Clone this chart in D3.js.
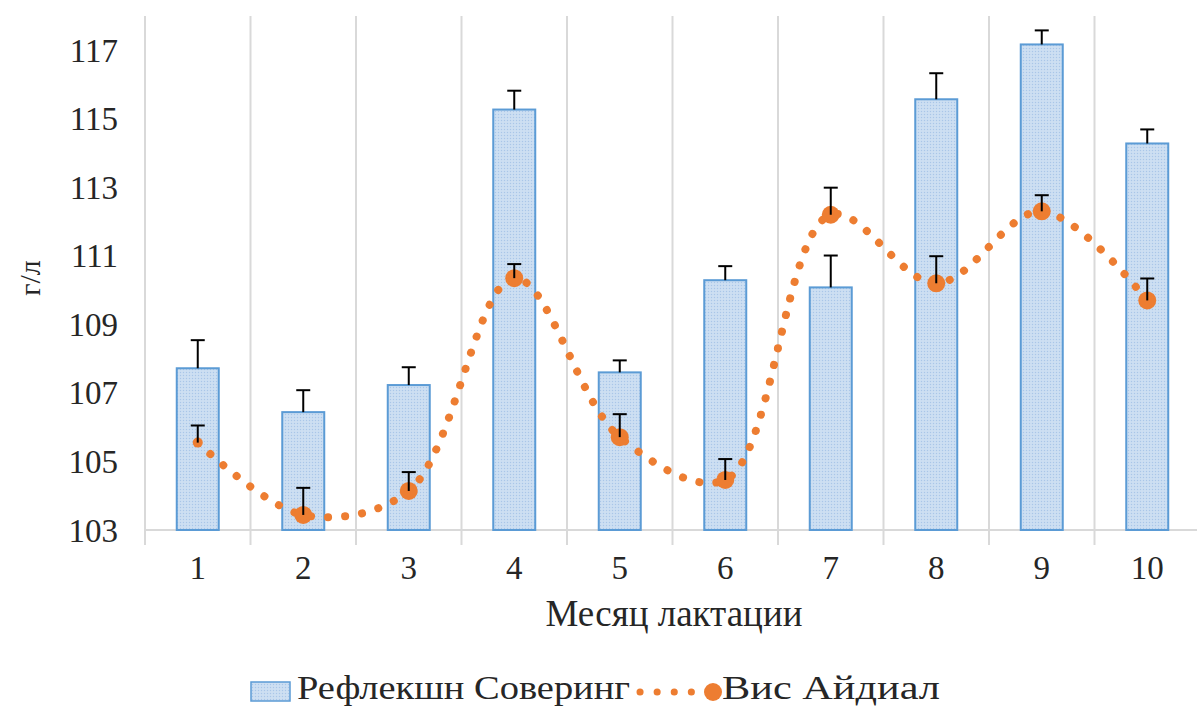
<!DOCTYPE html>
<html><head><meta charset="utf-8">
<script src="https://cdn.jsdelivr.net/npm/d3@7"></script>
<style>body{margin:0;background:#fff}svg{display:block}</style>
</head><body><svg id="c" width="1197" height="707"></svg>
<script>
const categories = ["1","2","3","4","5","6","7","8","9","10"];
const barValues = [107.72,106.44,107.23,115.27,107.6,110.29,110.08,115.57,117.17,114.28];
const barErrors = [0.82,0.64,0.52,0.55,0.35,0.41,0.93,0.76,0.41,0.41];
const lineValues = [105.55,103.44,104.14,110.35,105.71,104.46,112.2,110.2,112.3,109.7];
const lineErrors = [0.5,0.79,0.55,0.41,0.67,0.61,0.79,0.79,0.47,0.64];
const yTicks = [103,105,107,109,111,113,115,117];
const barName = "Рефлекшн Соверинг", lineName = "Вис Айдиал";
const xTitle = "Месяц лактации", yTitle = "г/л";

const svg = d3.select("#c");
const L = 145, R = 1200, T = 16, B = 530;
const TXT = "#262626";
const x = d3.scaleBand().domain(categories).range([L, R]);
const y = d3.scaleLinear().domain([103, 118]).range([B, T]);

function txt(sel, size){ return sel.style("font-family", '"Liberation Serif"').style("font-size", size+"px").style("fill", TXT); }

const defs = svg.append("defs");
const pat = defs.append("pattern").attr("id","p").attr("width",3).attr("height",3).attr("patternUnits","userSpaceOnUse");
pat.append("rect").attr("width",3).attr("height",3).attr("fill","#c9dcf1");
pat.append("rect").attr("width",1).attr("height",1).attr("fill","#a9c6e8");
pat.append("rect").attr("x",1.5).attr("y",1.5).attr("width",1).attr("height",1).attr("fill","#dbe8f6");

const bounds = categories.map(c => x(c)).concat([R]);
svg.append("g").selectAll("line").data(bounds).join("line")
  .attr("x1", d=>d).attr("x2", d=>d).attr("y1", T).attr("y2", B + 15)
  .attr("stroke", "#d9d9d9").attr("stroke-width", 2);
svg.append("line").attr("x1", L).attr("x2", R).attr("y1", B).attr("y2", B).attr("stroke","#d9d9d9").attr("stroke-width",2);

txt(svg.append("g").selectAll("text").data(yTicks).join("text")
  .attr("x", 118).attr("y", d=>y(d)).attr("dy","0.35em").attr("text-anchor","end"), 33).text(d=>d);
txt(svg.append("g").selectAll("text").data(categories).join("text")
  .attr("x", d=>x(d)+x.bandwidth()/2).attr("y", 579).attr("text-anchor","middle"), 33).text(d=>d);
txt(svg.append("text").attr("x", 674).attr("y", 626).attr("text-anchor","middle"), 37).text(xTitle);
txt(svg.append("text").attr("transform","translate(40,278) rotate(-90)").attr("text-anchor","middle"), 30).text(yTitle);

const bw = 42;
svg.append("g").selectAll("rect").data(barValues).join("rect")
  .attr("x", (d,i)=>x(categories[i])+x.bandwidth()/2-bw/2).attr("width", bw)
  .attr("y", d=>y(d)).attr("height", d=>B-y(d))
  .attr("fill","url(#p)").attr("stroke","#5b9bd5").attr("stroke-width",2);

function errBars(vals, errs){
  const g = svg.append("g").attr("stroke","#000").attr("stroke-width",2);
  vals.forEach((v,i)=>{
    const cx = x(categories[i])+x.bandwidth()/2;
    g.append("line").attr("x1",cx).attr("x2",cx).attr("y1",y(v)).attr("y2",y(v+errs[i]));
    g.append("line").attr("x1",cx-7).attr("x2",cx+7).attr("y1",y(v+errs[i])).attr("y2",y(v+errs[i]));
  });
}
errBars(barValues, barErrors);

const pts = lineValues.map((v,i)=>[x(categories[i])+x.bandwidth()/2, y(v)]);
svg.append("path").attr("d", d3.line().curve(d3.curveCatmullRom.alpha(0.5))(pts))
  .attr("fill","none").attr("stroke","#ed7d31").attr("stroke-width",8)
  .attr("stroke-linecap","round").attr("stroke-dasharray","0.1 17");
svg.append("g").selectAll("circle").data(pts).join("circle")
  .attr("cx", d=>d[0]).attr("cy", d=>d[1]).attr("r", (d,i)=> i===0?5:9).attr("fill","#ed7d31");
errBars(lineValues, lineErrors);

const lg = svg.append("g");
lg.append("rect").attr("x",251).attr("y",682).attr("width",39).attr("height",19).attr("fill","url(#p)").attr("stroke","#5b9bd5").attr("stroke-width",1.5);
txt(lg.append("text").attr("x",297).attr("y",699).attr("textLength",333).attr("lengthAdjust","spacingAndGlyphs"), 34).text(barName);
lg.append("line").attr("x1",640).attr("x2",706).attr("y1",692).attr("y2",692)
  .attr("stroke","#ed7d31").attr("stroke-width",7).attr("stroke-linecap","round").attr("stroke-dasharray","0.1 17");
lg.append("circle").attr("cx",713).attr("cy",692).attr("r",9).attr("fill","#ed7d31");
txt(lg.append("text").attr("x",722).attr("y",699).attr("textLength",218).attr("lengthAdjust","spacingAndGlyphs"), 34).text(lineName);
</script></body></html>
